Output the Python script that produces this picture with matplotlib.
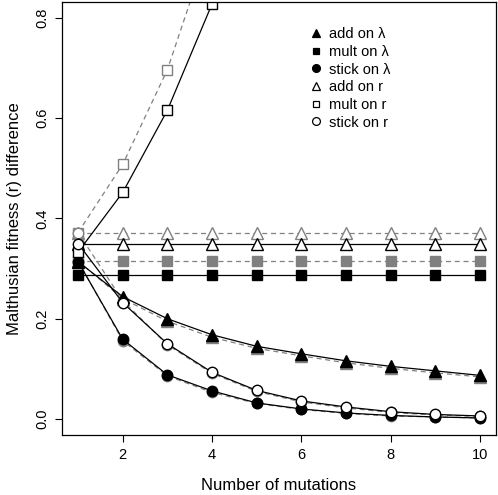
import matplotlib
matplotlib.use('Agg')
import matplotlib.pyplot as plt
from matplotlib.lines import Line2D

plt.rcParams['font.family'] = ['Liberation Sans', 'DejaVu Sans']

# number of mutations
mutations = [1, 2, 3, 4, 5, 6, 7, 8, 9, 10]

# black solid series
add_lam = [0.314, 0.244, 0.200, 0.168, 0.145, 0.130, 0.116, 0.105, 0.096, 0.087]
mult_lam = [0.287, 0.287, 0.287, 0.287, 0.287, 0.287, 0.287, 0.287, 0.287, 0.287]
stick_lam = [0.314, 0.159, 0.088, 0.056, 0.032, 0.020, 0.012, 0.007, 0.004, 0.002]
add_r = [0.350, 0.350, 0.350, 0.350, 0.350, 0.350, 0.350, 0.350, 0.350, 0.350]
mult_r = [0.333, 0.452, 0.616, 0.828, 1.100]
stick_r = [0.350, 0.232, 0.150, 0.093, 0.057, 0.036, 0.024, 0.0145, 0.009, 0.006]

# grey dashed series
add_lam_g = [0.315, 0.240, 0.195, 0.163, 0.141, 0.126, 0.112, 0.101, 0.092, 0.084]
mult_lam_g = [0.315, 0.315, 0.315, 0.315, 0.315, 0.315, 0.315, 0.315, 0.315, 0.315]
stick_lam_g = [0.315, 0.156, 0.086, 0.053, 0.031, 0.019, 0.011, 0.006, 0.004, 0.002]
add_r_g = [0.372, 0.372, 0.372, 0.372, 0.372, 0.372, 0.372, 0.372, 0.372, 0.372]
mult_r_g = [0.372, 0.508, 0.697, 0.962]
stick_r_g = [0.372, 0.236, 0.148, 0.091, 0.055, 0.034, 0.022, 0.013, 0.008, 0.005]

labels = ['add on λ', 'mult on λ', 'stick on λ', 'add on r', 'mult on r', 'stick on r']
markers = ['^', 's', 'o', '^', 's', 'o']
filled = [True, True, True, False, False, False]
msizes = [8, 6.5, 7.5, 8, 6.5, 7.5]

black = [add_lam, mult_lam, stick_lam, add_r, mult_r, stick_r]
grey = [add_lam_g, mult_lam_g, stick_lam_g, add_r_g, mult_r_g, stick_r_g]

fig = plt.figure(figsize=(4.98, 4.95), dpi=100)
ax = fig.add_axes([0.1245, 0.1212, 0.8715, 0.8748])

gcol = '#808080'
# grey dashed first, black solid on top
for vals, m, f, ms in zip(grey, markers, filled, msizes):
    ax.plot(mutations[:len(vals)], vals, color=gcol, ls=(0, (4, 3)), lw=0.9,
            marker=m, ms=ms, mfc=gcol if f else 'white', mec=gcol, mew=1.0)
for vals, m, f, ms in zip(black, markers, filled, msizes):
    ax.plot(mutations[:len(vals)], vals, color='black', ls='-', lw=0.9,
            marker=m, ms=ms, mfc='black' if f else 'white', mec='black', mew=1.0)

ax.set_xlim(0.64, 10.36)
ax.set_ylim(-0.032, 0.832)
ax.set_xticks([2, 4, 6, 8, 10])
ax.set_yticks([0.0, 0.2, 0.4, 0.6, 0.8])
ax.set_yticklabels(['0.0', '0.2', '0.4', '0.6', '0.8'], rotation=90, va='center')
ax.tick_params(direction='out', length=5, width=0.8, labelsize=10.5, pad=4)
for s in ax.spines.values():
    s.set_linewidth(0.9)

ax.set_xlabel('Number of mutations', fontsize=12, labelpad=12)
ax.set_ylabel('Malthusian fitness (r) difference', fontsize=12, labelpad=10)

handles = [Line2D([], [], ls='none', marker=m, ms=ms * 0.75, mfc='black' if f else 'white',
                  mec='black', mew=0.9)
           for m, f, ms in zip(markers, filled, msizes)]
ax.legend(handles, labels, loc='upper left', bbox_to_anchor=(0.555, 0.955),
          frameon=False, fontsize=10.5, handlelength=1.0, handletextpad=0.4,
          labelspacing=0.25, borderaxespad=0)

fig.savefig('out.png', dpi=100)
